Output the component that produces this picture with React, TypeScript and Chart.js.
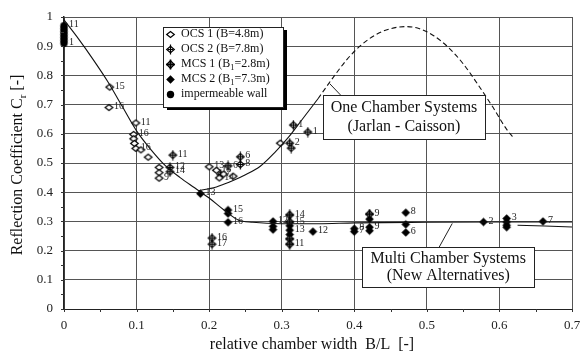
import React, { useEffect, useRef } from "react";
import { Chart, registerables } from "chart.js";
Chart.register(...registerables);

// ---- tick labels ----
const xTicks = [0, 0.1, 0.2, 0.3, 0.4, 0.5, 0.6, 0.7];
const yTicks = [0, 0.1, 0.2, 0.3, 0.4, 0.5, 0.6, 0.7, 0.8, 0.9, 1];

// ---- impermeable wall ----
const wallX = [0, 0, 0, 0, 0, 0, 0];
const wallY = [0.97, 0.96, 0.95, 0.94, 0.93, 0.92, 0.91];
const wallLbl = ["11", "", "", "", "", "", "1"];

// ---- OCS 1 (B=4.8m) ----
const ocs1X = [0.063, 0.062, 0.099, 0.096, 0.096, 0.097, 0.099, 0.106, 0.116, 0.131, 0.131, 0.131, 0.2, 0.21, 0.214, 0.22, 0.233, 0.298];
const ocs1Y = [0.76, 0.69, 0.637, 0.598, 0.583, 0.567, 0.55, 0.545, 0.52, 0.485, 0.467, 0.448, 0.487, 0.475, 0.449, 0.462, 0.455, 0.568];
const ocs1Lbl = ["15", "16", "11", "16", "", "", "16", "", "", "", "", "9", "13", "15", "14", "", "", ""];

// ---- OCS 2 (B=7.8m) ----
const ocs2X = [0.15, 0.146, 0.146, 0.243, 0.243, 0.226, 0.216, 0.316, 0.311, 0.313, 0.336, 0.204, 0.204];
const ocs2Y = [0.527, 0.485, 0.47, 0.521, 0.495, 0.49, 0.46, 0.63, 0.568, 0.551, 0.606, 0.243, 0.222];
const ocs2Lbl = ["11", "12", "14", "6", "8", "6", "7", "1", "2", "", "1", "16", "17"];

// ---- MCS 1 (B1=2.8m) ----
const mcs1X = [0.311, 0.311, 0.311, 0.311, 0.421];
const mcs1Y = [0.322, 0.298, 0.24, 0.222, 0.325];
const mcs1Lbl = ["14", "15", "", "11", "9"];

// ---- MCS 2 (B1=7.3m) ----
const mcs2X = [0.188, 0.226, 0.226, 0.226, 0.288, 0.288, 0.288, 0.311, 0.311, 0.311, 0.343, 0.4, 0.4, 0.421, 0.421, 0.421, 0.471, 0.471, 0.471, 0.578, 0.61, 0.61, 0.61, 0.61, 0.66];
const mcs2Y = [0.395, 0.339, 0.327, 0.297, 0.3, 0.283, 0.272, 0.285, 0.27, 0.255, 0.265, 0.275, 0.265, 0.308, 0.28, 0.268, 0.33, 0.29, 0.262, 0.298, 0.31, 0.298, 0.287, 0.28, 0.3];
const mcs2Lbl = ["13", "15", "", "16", "12", "", "", "", "13", "", "12", "8", "7", "", "9", "", "8", "", "6", "2", "3", "", "", "", "7"];

// ---- fitted curves ----
const multiX = [0, 0.02, 0.04, 0.06, 0.08, 0.1, 0.12, 0.14, 0.16, 0.18, 0.2, 0.22, 0.24, 0.26, 0.3, 0.35, 0.4, 0.5, 0.6, 0.7];
const multiY = [0.99, 0.925, 0.855, 0.78, 0.695, 0.61, 0.545, 0.49, 0.45, 0.415, 0.38, 0.34, 0.305, 0.297, 0.292, 0.292, 0.295, 0.297, 0.298, 0.298];
const tailX = [0.625, 0.7];
const tailY = [0.287, 0.281];
const oneSolidX = [0.185, 0.2, 0.21, 0.22, 0.233, 0.25, 0.27, 0.29, 0.31, 0.33, 0.35];
const oneSolidY = [0.405, 0.412, 0.418, 0.427, 0.44, 0.46, 0.488, 0.535, 0.59, 0.655, 0.72];
const oneDashX = [0.35, 0.37, 0.39, 0.41, 0.43, 0.45, 0.47, 0.49, 0.51, 0.53, 0.55, 0.57, 0.59, 0.61, 0.62];
const oneDashY = [0.72, 0.79, 0.855, 0.905, 0.94, 0.96, 0.967, 0.96, 0.935, 0.895, 0.84, 0.77, 0.695, 0.615, 0.585];

// ---- text ----
type Seg = { t: string; sub?: boolean };
const legendItems: { kind: string; segs: Seg[] }[] = [
  { kind: "ocs1", segs: [{ t: "OCS 1 (B=4.8m)" }] },
  { kind: "ocs2", segs: [{ t: "OCS 2 (B=7.8m)" }] },
  { kind: "mcs1", segs: [{ t: "MCS 1 (B" }, { t: "1", sub: true }, { t: "=2.8m)" }] },
  { kind: "mcs2", segs: [{ t: "MCS 2 (B" }, { t: "1", sub: true }, { t: "=7.3m)" }] },
  { kind: "wall", segs: [{ t: "impermeable wall" }] },
];
const yTitle: Seg[] = [{ t: "Reflection Coefficient C" }, { t: "r", sub: true }, { t: " [-]" }];
const xTitle = "relative chamber width  B/L  [-]";
const annotations = [
  { lines: ["One Chamber Systems", "(Jarlan - Caisson)"], x0: 0.357, x1: 0.58, y0: 0.733, y1: 0.582, lead: [0.366, 0.772, 0.381, 0.733] },
  { lines: ["Multi Chamber Systems", "(New Alternatives)"], x0: 0.411, x1: 0.648, y0: 0.212, y1: 0.075, lead: [0.535, 0.293, 0.517, 0.212] },
];

const SERIF = '"Liberation Serif", "Times New Roman", serif';

function makeIcon(kind: string): HTMLCanvasElement {
  const c = document.createElement("canvas");
  c.width = 11;
  c.height = 11;
  const g = c.getContext("2d")!;
  const m = 5.5;
  g.strokeStyle = "#000";
  g.fillStyle = "#000";
  g.lineWidth = 1.2;
  const diamond = (hw: number, hh: number) => {
    g.beginPath();
    g.moveTo(m - hw, m);
    g.lineTo(m, m - hh);
    g.lineTo(m + hw, m);
    g.lineTo(m, m + hh);
    g.closePath();
  };
  if (kind === "ocs1") {
    diamond(3.8, 3);
    g.fillStyle = "#fff";
    g.fill();
    g.stroke();
  } else if (kind === "ocs2") {
    diamond(3.8, 3.2);
    g.fillStyle = "#fff";
    g.fill();
    g.stroke();
    g.beginPath();
    g.moveTo(m, 0.5);
    g.lineTo(m, 10.5);
    g.moveTo(m - 2.5, m);
    g.lineTo(m + 2.5, m);
    g.stroke();
  } else if (kind === "mcs1") {
    diamond(3.8, 3.8);
    g.fillStyle = "#999";
    g.fill();
    g.stroke();
    g.lineWidth = 1.6;
    g.beginPath();
    g.moveTo(m, 0.5);
    g.lineTo(m, 10.5);
    g.moveTo(1, m);
    g.lineTo(10, m);
    g.stroke();
  } else if (kind === "mcs2") {
    diamond(4.3, 4.3);
    g.fill();
  } else {
    g.beginPath();
    g.arc(m, m, 3.7, 0, Math.PI * 2);
    g.fill();
  }
  return c;
}

function drawRich(ctx: CanvasRenderingContext2D, segs: Seg[], x: number, y: number, size: number, align: "left" | "center") {
  const widths = segs.map((s) => {
    ctx.font = `${s.sub ? size * 0.7 : size}px ${SERIF}`;
    return ctx.measureText(s.t).width;
  });
  const total = widths.reduce((a, b) => a + b, 0);
  let cx = align === "center" ? x - total / 2 : x;
  ctx.textAlign = "left";
  ctx.textBaseline = "middle";
  segs.forEach((s, i) => {
    ctx.font = `${s.sub ? size * 0.7 : size}px ${SERIF}`;
    ctx.fillText(s.t, cx, s.sub ? y + size * 0.3 : y);
    cx += widths[i];
  });
}

export default function App() {
  const ref = useRef<HTMLCanvasElement>(null);
  useEffect(() => {
    const icons: Record<string, HTMLCanvasElement> = {
      ocs1: makeIcon("ocs1"),
      ocs2: makeIcon("ocs2"),
      mcs1: makeIcon("mcs1"),
      mcs2: makeIcon("mcs2"),
      wall: makeIcon("wall"),
    };
    const pts = (xs: number[], ys: number[]) => xs.map((x, i) => ({ x, y: ys[i] }));
    const curve = (xs: number[], ys: number[], dash: number[] = []) => ({
      data: pts(xs, ys),
      showLine: true,
      borderColor: "#111",
      borderWidth: 1.1,
      borderDash: dash,
      pointRadius: 0,
      cubicInterpolationMode: "monotone" as const,
      clip: false as any,
    });
    const marks = (xs: number[], ys: number[], lbl: string[], kind: string) => ({
      data: pts(xs, ys),
      pointStyle: icons[kind],
      pointRadius: 4,
      showLine: false,
      clip: false as any,
      pointLabels: lbl,
    });

    const fmt = (v: number) => String(Math.round(v * 10) / 10);

    const overlay = {
      id: "overlay",
      afterDatasetsDraw(chart: any) {
        const ctx = chart.ctx as CanvasRenderingContext2D;
        ctx.save();
        ctx.fillStyle = "#222";
        ctx.font = `10px ${SERIF}`;
        ctx.textAlign = "left";
        ctx.textBaseline = "middle";
        chart.data.datasets.forEach((ds: any, di: number) => {
          if (!ds.pointLabels) return;
          const meta = chart.getDatasetMeta(di);
          meta.data.forEach((p: any, i: number) => {
            const t = ds.pointLabels[i];
            if (t) ctx.fillText(t, p.x + 5, p.y - 1);
          });
        });
        ctx.restore();
      },
      afterDraw(chart: any) {
        const ctx = chart.ctx as CanvasRenderingContext2D;
        const xs = chart.scales.x;
        const ys = chart.scales.y;
        const ca = chart.chartArea;
        ctx.save();
        // minor ticks
        ctx.strokeStyle = "#333";
        ctx.lineWidth = 1;
        ctx.beginPath();
        for (let k = 0; k <= 20; k++) {
          const py = Math.round(ys.getPixelForValue(k * 0.05)) + 0.5;
          ctx.moveTo(ca.left - 3, py);
          ctx.lineTo(ca.left, py);
        }
        for (let k = 0; k <= 14; k++) {
          const px = Math.round(xs.getPixelForValue(k * 0.05)) + 0.5;
          ctx.moveTo(px, ca.bottom);
          ctx.lineTo(px, ca.bottom + 3);
        }
        ctx.stroke();

        // annotation boxes
        annotations.forEach((a) => {
          const l = xs.getPixelForValue(a.x0);
          const r = xs.getPixelForValue(a.x1);
          const t = ys.getPixelForValue(a.y0);
          const b = ys.getPixelForValue(a.y1);
          ctx.strokeStyle = "#222";
          ctx.lineWidth = 1;
          ctx.beginPath();
          ctx.moveTo(xs.getPixelForValue(a.lead[0]), ys.getPixelForValue(a.lead[1]));
          ctx.lineTo(xs.getPixelForValue(a.lead[2]), ys.getPixelForValue(a.lead[3]));
          ctx.stroke();
          ctx.fillStyle = "#fff";
          ctx.fillRect(l, t, r - l, b - t);
          ctx.strokeRect(Math.round(l) + 0.5, Math.round(t) + 0.5, Math.round(r - l), Math.round(b - t));
          ctx.fillStyle = "#111";
          const cx = (l + r) / 2;
          const h = b - t;
          a.lines.forEach((line, i) => {
            drawRich(ctx, [{ t: line }], cx, t + h * (i === 0 ? 0.3 : 0.72), 16, "center");
          });
        });

        // legend
        const L = ca.left + 99;
        const T = ca.top + 10;
        const W = 120;
        const H = 80;
        ctx.fillStyle = "#000";
        ctx.fillRect(L + 4, T + 3, W, H);
        ctx.fillStyle = "#fff";
        ctx.fillRect(L, T, W, H);
        ctx.strokeStyle = "#222";
        ctx.lineWidth = 1;
        ctx.strokeRect(L + 0.5, T + 0.5, W, H);
        ctx.fillStyle = "#111";
        legendItems.forEach((it, i) => {
          const ry = T + 7 + i * 15;
          const ic = icons[it.kind];
          ctx.drawImage(ic, Math.round(L + 7 - ic.width / 2), Math.round(ry - ic.height / 2));
          drawRich(ctx, it.segs, L + 18, ry, 12, "left");
        });

        // axis titles
        ctx.fillStyle = "#111";
        ctx.save();
        ctx.translate(18, (ca.top + ca.bottom) / 2 + 2);
        ctx.rotate(-Math.PI / 2);
        drawRich(ctx, yTitle, 0, 0, 16, "center");
        ctx.restore();
        drawRich(ctx, [{ t: xTitle }], (ca.left + ca.right) / 2 - 6, 345, 16, "center");
        ctx.restore();
      },
    };

    const chart = new Chart(ref.current!, {
      type: "scatter",
      data: {
        datasets: [
          curve(multiX, multiY),
          curve(tailX, tailY),
          curve(oneSolidX, oneSolidY),
          curve(oneDashX, oneDashY, [5, 3]),
          marks(wallX, wallY, wallLbl, "wall"),
          marks(ocs1X, ocs1Y, ocs1Lbl, "ocs1"),
          marks(ocs2X, ocs2Y, ocs2Lbl, "ocs2"),
          marks(mcs1X, mcs1Y, mcs1Lbl, "mcs1"),
          marks(mcs2X, mcs2Y, mcs2Lbl, "mcs2"),
        ] as any,
      },
      options: {
        animation: false,
        responsive: false,
        maintainAspectRatio: false,
        layout: { padding: { top: 17, right: 8, left: 0, bottom: 0 } },
        plugins: { legend: { display: false }, tooltip: { enabled: false } },
        scales: {
          x: {
            type: "linear",
            min: 0,
            max: 0.7,
            afterBuildTicks: (s: any) => {
              s.ticks = xTicks.map((v) => ({ value: v }));
            },
            afterFit: (s: any) => {
              s.height = 47;
              s.paddingLeft = 0;
              s.paddingRight = 0;
              s.paddingTop = 0;
              s.paddingBottom = 0;
            },
            ticks: {
              callback: (v: any) => fmt(Number(v)),
              font: { family: SERIF, size: 13 },
              color: "#222",
              padding: 9,
              maxRotation: 0,
              autoSkip: false,
            },
            grid: { color: "#555", lineWidth: 1, drawTicks: false },
            border: { color: "#222", width: 1 },
          },
          y: {
            type: "linear",
            min: 0,
            max: 1,
            afterBuildTicks: (s: any) => {
              s.ticks = yTicks.map((v) => ({ value: v }));
            },
            afterFit: (s: any) => {
              s.width = 64;
              s.paddingLeft = 0;
              s.paddingRight = 0;
              s.paddingTop = 0;
              s.paddingBottom = 0;
            },
            ticks: {
              callback: (v: any) => fmt(Number(v)),
              font: { family: SERIF, size: 13 },
              color: "#222",
              padding: 11,
              autoSkip: false,
            },
            grid: { color: "#555", lineWidth: 1, drawTicks: false },
            border: { color: "#222", width: 1.5 },
          },
        },
      } as any,
      plugins: [overlay],
    });
    return () => chart.destroy();
  }, []);
  return (
    <div style={{ position: "absolute", left: 0, top: 0, width: 580, height: 356, background: "#fff" }}>
      <canvas ref={ref} width={580} height={356} />
    </div>
  );
}
